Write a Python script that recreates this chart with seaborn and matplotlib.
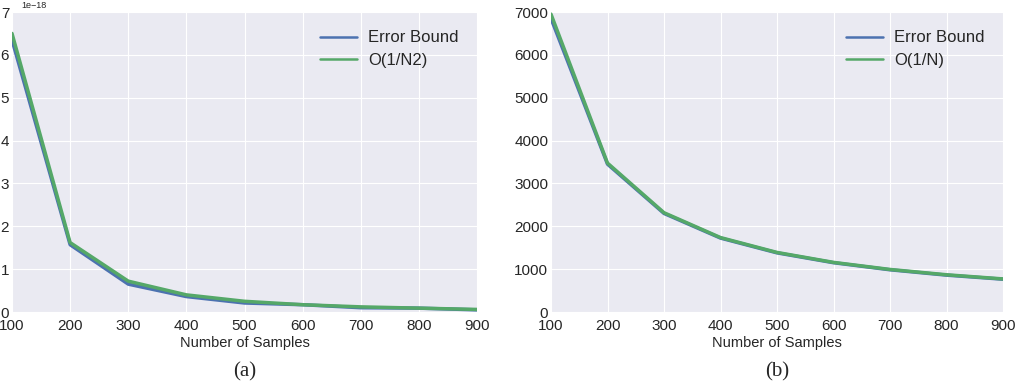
import matplotlib
matplotlib.use("Agg")
import matplotlib.pyplot as plt
import pandas as pd
import seaborn as sns

samples = [100, 200, 300, 400, 500, 600, 700, 800, 900]

# (a) error bound vs O(1/N^2), values in units of 1e-18
bound_a = [6.35, 1.57, 0.65, 0.36, 0.21, 0.17, 0.10, 0.09, 0.05]
ref_a = [6.50, 1.62, 0.72, 0.40, 0.25, 0.17, 0.12, 0.09, 0.06]

# (b) error bound vs O(1/N)
bound_b = [6850, 3450, 2300, 1725, 1380, 1150, 985, 860, 765]
ref_b = [6950, 3475, 2317, 1737, 1390, 1158, 993, 869, 772]

BLUE = "#4C72B0"
GREEN = "#55A868"

sns.set_style("darkgrid", {"axes.facecolor": "#EAEAF2", "grid.color": "white"})
plt.rcParams["font.family"] = ["Liberation Sans", "DejaVu Sans"]

fig = plt.figure(figsize=(10.16, 3.88), dpi=100)
W, H = 1016, 388
ax_a = fig.add_axes([12 / W, 1 - 312 / H, 465 / W, 300 / H])
ax_b = fig.add_axes([551 / W, 1 - 312 / H, 452 / W, 300 / H])


def draw(ax, bound, ref, ref_name, ymax, yticks, scale=1.0):
    df = pd.DataFrame({
        "samples": samples * 2,
        "value": [v * scale for v in bound] + [v * scale for v in ref],
        "series": ["Error Bound"] * len(bound) + [ref_name] * len(ref),
    })
    sns.lineplot(data=df, x="samples", y="value", hue="series",
                 palette=[BLUE, GREEN], linewidth=2.5, ax=ax)
    ax.set_xlim(100, 900)
    ax.set_ylim(0, ymax)
    ax.set_xticks(samples)
    ax.set_yticks(yticks)
    ax.tick_params(axis="both", length=0, labelsize=11, colors="#262626")
    ax.tick_params(axis="x", pad=5)
    ax.tick_params(axis="y", pad=2)
    ax.set_xlabel("Number of Samples", fontsize=10.5, labelpad=2, color="#262626")
    ax.set_ylabel("")
    for s in ax.spines.values():
        s.set_visible(False)
    leg = ax.legend(loc="upper right", frameon=False, fontsize=12,
                    handlelength=2.2, handletextpad=0.7, labelspacing=0.45,
                    borderaxespad=0.7)
    for line in leg.get_lines():
        line.set_linewidth(1.8)


draw(ax_a, bound_a, ref_a, "O(1/N2)", 7e-18, [i * 1e-18 for i in range(8)], scale=1e-18)
off = ax_a.yaxis.get_offset_text()
off.set_fontsize(6.5)
off.set_x(0.02)
draw(ax_b, bound_b, ref_b, "O(1/N)", 7000, range(0, 7001, 1000))

fig.text(245 / W, 1 - 372 / H, "(a)", ha="center", va="center",
         fontsize=15, family=["Liberation Serif", "DejaVu Serif"])
fig.text(777 / W, 1 - 372 / H, "(b)", ha="center", va="center",
         fontsize=15, family=["Liberation Serif", "DejaVu Serif"])

fig.savefig("out.png", dpi=100)
